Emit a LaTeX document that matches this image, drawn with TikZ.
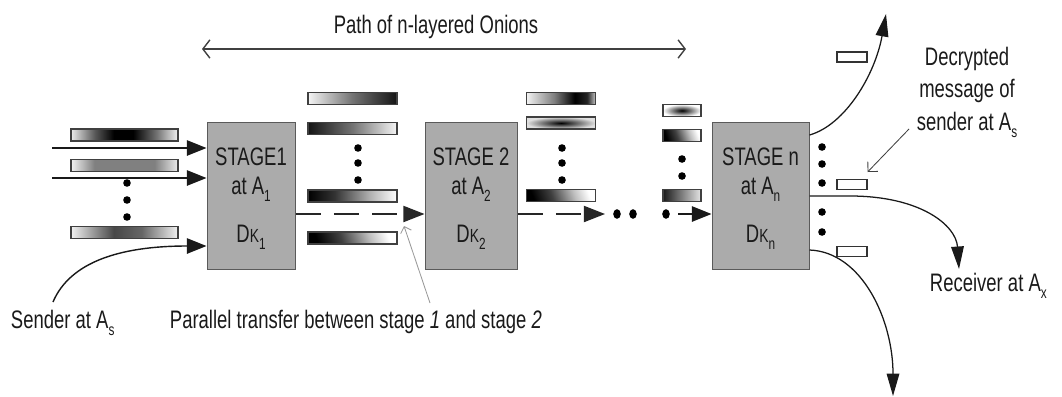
\documentclass[tikz,border=0pt]{standalone}
\usepackage{fontspec}
\setmainfont{Liberation Sans}[FakeStretch=0.73]
\usetikzlibrary{arrows.meta,calc,shapes.geometric}
\newcommand\mysub[1]{\raisebox{-5.5pt}{\fontsize{11.5}{11.5}\selectfont #1}}
\newcommand\smallk{{\fontsize{13.5}{13.5}\selectfont K}}
\definecolor{txt}{HTML}{1A1A1A}
\definecolor{boxgray}{HTML}{ABABAB}
\definecolor{boxline}{HTML}{5A5A5A}
\pgfdeclarehorizontalshading{shA}{100bp}{color(0bp)=(gray!15); color(25bp)=(gray!15); color(36bp)=(black!65); color(45bp)=(black); color(54bp)=(black); color(65bp)=(black!55); color(75bp)=(gray!10); color(100bp)=(gray!10)}
\pgfdeclarehorizontalshading{shB}{100bp}{color(0bp)=(gray!10); color(25bp)=(gray!10); color(36bp)=(black!50); color(64bp)=(black!50); color(75bp)=(gray!15); color(100bp)=(gray!15)}
\pgfdeclarehorizontalshading{shC}{100bp}{color(0bp)=(gray!10); color(25bp)=(gray!10); color(45bp)=(black!72); color(58bp)=(black!60); color(75bp)=(gray!10); color(100bp)=(gray!10)}
\pgfdeclarehorizontalshading{shD}{100bp}{color(0bp)=(gray!8); color(25bp)=(gray!8); color(50bp)=(black!55); color(75bp)=(black!92); color(100bp)=(black!92)}
\pgfdeclarehorizontalshading{shE}{100bp}{color(0bp)=(black!92); color(25bp)=(black!92); color(50bp)=(black!55); color(75bp)=(gray!8); color(100bp)=(gray!8)}
\pgfdeclarehorizontalshading{shF}{100bp}{color(0bp)=(black); color(25bp)=(black); color(40bp)=(black!80); color(60bp)=(black!30); color(75bp)=(white); color(100bp)=(white)}
\pgfdeclarehorizontalshading{shG}{100bp}{color(0bp)=(gray!10); color(25bp)=(gray!10); color(45bp)=(black!50); color(60bp)=(black); color(69bp)=(black!85); color(75bp)=(gray!45); color(100bp)=(gray!45)}
\pgfdeclarehorizontalshading{shDiag}{100bp}{color(0bp)=(black); color(25bp)=(black); color(42bp)=(black!75); color(62bp)=(black!25); color(75bp)=(white); color(100bp)=(white)}
\pgfdeclarehorizontalshading{shH}{100bp}{color(0bp)=(black!90); color(25bp)=(black!90); color(50bp)=(black!50); color(75bp)=(gray!20); color(100bp)=(gray!20)}
\tikzset{
  every node/.style={font=\fontsize{18}{21}\selectfont, text=txt},
  stagebox/.style={draw=boxline, line width=0.7pt, fill=boxgray, minimum height=3.65cm, inner sep=0pt},
  onion/.style={draw=black!75, line width=0.8pt, minimum height=0.3cm, inner sep=0pt},
  onionL/.style={onion, minimum width=2.675cm},
  onionM/.style={onion, minimum width=2.225cm},
  onionMM/.style={onion, minimum width=1.725cm},
  onionN/.style={onion, minimum width=0.95cm},
  plainbar/.style={draw=black!80, line width=0.8pt, fill=white, minimum width=0.75cm, minimum height=0.25cm, inner sep=0pt},
  blob/.style={circle, fill=black, minimum size=0.19cm, inner sep=0pt},
  bigblob/.style={ellipse, fill=black, minimum width=0.19cm, minimum height=0.24cm, inner sep=0pt},
  arr/.style={draw=black!90, line width=1pt, -{Triangle[length=14pt,width=11pt]}},
  outarr/.style={draw=black!90, line width=0.9pt, -{Triangle[length=16pt,width=9pt]}},
  dasharr/.style={draw=black!85, line width=1pt, dash pattern=on 17.8pt off 9.5pt, -{Triangle[length=15pt,width=11.5pt,sep=0pt]}},
  thinarr/.style={draw=black!75, line width=0.6pt, -{Straight Barb[length=5pt,width=10pt]}},
  grayarr/.style={draw=black!40, line width=0.6pt, -{Straight Barb[length=4pt,width=8pt]}},
  patharr/.style={draw=black!75, line width=1pt, {Straight Barb[length=5pt,width=13pt]}-{Straight Barb[length=5pt,width=13pt]}},
}
\begin{document}
\begin{tikzpicture}[x=0.025cm,y=-0.025cm]
\useasboundingbox (0,0) rectangle (1062,396);

% stage boxes
\node[stagebox, minimum width=2.2cm] (s1) at (251,196) {};
\node[stagebox, minimum width=2.3cm] (s2) at (471,196) {};
\node[stagebox, minimum width=2.425cm] (sn) at (760.5,196) {};

\node[anchor=base] (t1a) at (251,165) {STAGE1};
\node[anchor=base] (t1b) at (251,194) {at A\mysub{1}};
\node[anchor=base] (t1c) at (251,242) {D\smallk\mysub{1}};
\node[anchor=base] (t2a) at (471,165) {STAGE 2};
\node[anchor=base] (t2b) at (471,194) {at A\mysub{2}};
\node[anchor=base] (t2c) at (471,242) {D\smallk\mysub{2}};
\node[anchor=base] (tna) at (760.5,165) {STAGE n};
\node[anchor=base] (tnb) at (760.5,194) {at A\mysub{n}};
\node[anchor=base] (tnc) at (760.5,242) {D\smallk\mysub{n}};

% left onions
\node[onionL, shading=shA] (l1) at (124.5,135) {};
\node[onionL, shading=shB] (l2) at (124.5,165.5) {};
\node[onionL, shading=shC] (l3) at (124.5,232.5) {};
\node[blob] (ld1) at (127,183) {};
\node[blob] (ld2) at (127,200) {};
\node[blob] (ld3) at (127,217) {};

% onions between stage 1 and 2
\node[onionM, shading=shD] (m1) at (352.5,98.5) {};
\node[onionM, shading=shE] (m2) at (352.5,128.5) {};
\node[onionM, shading=shF] (m3) at (352.5,196) {};
\node[onionM, shading=shDiag, shading angle=20] (m4) at (352.5,238) {};
\node[blob] (md1) at (358,148) {};
\node[blob] (md2) at (358,163) {};
\node[blob] (md3) at (358,180) {};

% onions between stage 2 and n
\node[onionMM, shading=shG] (k1) at (561,98.5) {};
\node[onionMM, shading=radial, inner color=black, outer color=gray!25] (k2) at (561,123) {};
\node[onionMM, shading=shDiag, shading angle=20] (k3) at (561,195.5) {};
\node[blob] (kd1) at (562,148) {};
\node[blob] (kd2) at (562,163) {};
\node[blob] (kd3) at (562,180) {};

% onions before stage n
\node[onionN, shading=radial, inner color=black, outer color=white] (n1) at (682,110.5) {};
\node[onionN, shading=shDiag, shading angle=20] (n2) at (682,135.5) {};
\node[onionN, shading=shH] (n3) at (682,195.5) {};
\node[blob] (nd1) at (682,159) {};
\node[blob] (nd2) at (682,176) {};

% right side
\node[plainbar] (w1) at (852,57) {};
\node[plainbar] (w2) at (852,184.5) {};
\node[plainbar] (w3) at (852,251.5) {};
\node[blob] (rd1) at (822,147) {};
\node[blob] (rd2) at (822,164) {};
\node[blob] (rd3) at (822,183) {};
\node[blob] (rd4) at (822,212) {};
\node[blob] (rd5) at (822,232) {};

% inputs
\coordinate (in1) at (52,148);
\coordinate (in2) at (52,178);
\draw[arr] (in1) -- (in1 -| s1.west);
\draw[arr] (in2) -- (in2 -| s1.west);
\node[anchor=base west] (sender) at (6,328) {Sender at A\mysub{s}};
\coordinate (sstart) at (53,302);
\draw[arr] (sstart) .. controls (70,262) and (120,246) .. ($(s1.west)+(0,50)$);

% transfers
\draw[dasharr] ($(s1.east)+(0,18)$) -- ($(s2.west)+(0,18)$);
\coordinate (m2end) at (605,214);
\coordinate (m3start) at (678,214);
\draw[dasharr] ($(s2.east)+(0,18)$) -- (m2end);
\node[bigblob] (td1) at (617,214) {};
\node[bigblob] (td2) at (633,214) {};
\node[bigblob] (td3) at (666,214) {};
\draw[arr] (m3start) -- ($(sn.west)+(0,18)$);

% outputs
\coordinate (outtop) at (886,14);
\coordinate (outrec) at (959,269);
\coordinate (outbot) at (893,396);
\draw[outarr] ($(sn.east)+(0,-61)$) .. controls (845,125) and (875,75) .. (outtop);
\draw[outarr] ($(sn.east)+(0,0)$) -- (850,196) .. controls (920,196) and (956,225) .. (outrec);
\draw[outarr] ($(sn.east)+(0,54)$) .. controls (862,252) and (893,320) .. (outbot);

% labels
\node[anchor=base] (path) at (436,33) {Path of n-layered Onions};
\coordinate (pl) at (202,49);
\coordinate (pr) at (686,49);
\draw[patharr] (pl) -- (pr);

\node[anchor=base west] (par) at (165,328) {Parallel transfer between stage \textit{1} and stage \textit{2}};
\draw[grayarr] (430,303) -- (404,226);

\node[anchor=base] (dec1) at (967,65) {Decrypted};
\node[anchor=base] (dec2) at (967,97) {message of};
\node[anchor=base] (dec3) at (967,130) {sender at A\mysub{s}};
\draw[thinarr] (909,129) -- (w2.north east |- 0,172) ;

\node[anchor=base west] (rec) at (925,291) {Receiver at A\mysub{x}};
\end{tikzpicture}
\end{document}
